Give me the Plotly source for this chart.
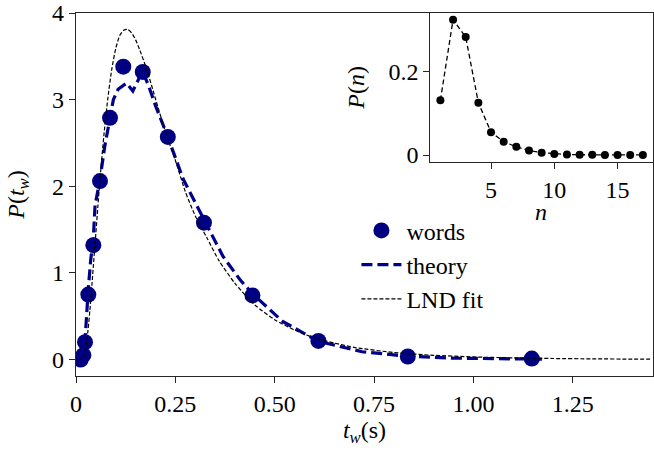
import plotly.graph_objects as go

# ---- main panel data ----
x_words = [0.0118, 0.0185, 0.0227, 0.031, 0.0436, 0.0604, 0.0856, 0.119, 0.168, 0.231, 0.322, 0.444, 0.61, 0.835, 1.147]
y_words = [0.0, 0.05, 0.20, 0.75, 1.32, 2.06, 2.79, 3.38, 3.32, 2.57, 1.58, 0.74, 0.215, 0.035, 0.011]

x_theory = [0.0118, 0.0164, 0.0227, 0.027, 0.031, 0.037, 0.0436, 0.048, 0.0604, 0.072, 0.0856, 0.094,
            0.106, 0.127, 0.143, 0.157, 0.166, 0.182, 0.20, 0.231, 0.27, 0.322, 0.37, 0.413, 0.444,
            0.52, 0.61, 0.72, 0.835, 0.95, 1.05, 1.18]
y_theory = [0.0, 0.05, 0.22, 0.55, 0.82, 1.15, 1.40, 1.78, 2.08, 2.45, 2.80, 3.00,
            3.12, 3.19, 3.10, 3.23, 3.34, 3.17, 2.93, 2.57, 2.08, 1.62, 1.19, 0.92, 0.76,
            0.44, 0.21, 0.09, 0.038, 0.016, 0.009, 0.004]

x_lnd = [0.005, 0.01, 0.015, 0.02, 0.025, 0.03, 0.035, 0.04, 0.045, 0.05, 0.055, 0.06, 0.07, 0.08,
         0.09, 0.10, 0.11, 0.12, 0.13, 0.14, 0.15, 0.16, 0.18, 0.20, 0.225, 0.25, 0.275, 0.30,
         0.33, 0.36, 0.40, 0.45, 0.50, 0.55, 0.60, 0.65, 0.70, 0.80, 0.90, 1.00, 1.10, 1.20,
         1.30, 1.40, 1.45]
y_lnd = [0.0, 0.0, 0.01, 0.05, 0.14, 0.33, 0.57, 0.86, 1.16, 1.46, 1.77, 2.06, 2.58, 3.01,
         3.35, 3.59, 3.74, 3.80, 3.81, 3.77, 3.69, 3.58, 3.32, 3.01, 2.63, 2.30, 1.94, 1.66,
         1.40, 1.14, 0.88, 0.63, 0.46, 0.34, 0.25, 0.19, 0.14, 0.081, 0.049, 0.030, 0.019, 0.012,
         0.008, 0.005, 0.004]

x_tickvals = [0, 0.25, 0.5, 0.75, 1.0, 1.25]
x_ticktext = ["0", "0.25", "0.50", "0.75", "1.00", "1.25"]
y_tickvals = [0, 1, 2, 3, 4]

# ---- inset data ----
n_vals = list(range(1, 18))
p_n = [0.132, 0.326, 0.284, 0.126, 0.055, 0.032, 0.020, 0.011, 0.0058, 0.0028, 0.0014,
       0.0008, 0.0005, 0.0004, 0.0003, 0.0002, 0.0002]
inset_xticks = [5, 10, 15]
inset_yticks = [0, 0.2]
inset_yticktext = ["0", "0.2"]

FONT = "Liberation Serif"
FS = 24
AXC = "#262626"

fig = go.Figure()
fig.add_trace(go.Scatter(x=x_words, y=y_words, mode="markers", name="words",
                         marker=dict(color="#000080", size=16), legendgroup="a",
                         cliponaxis=True))
fig.add_trace(go.Scatter(x=x_theory, y=y_theory, mode="lines", name="theory",
                         line=dict(color="#00008b", width=3.2, dash="11px,5px"), legendgroup="b"))
fig.add_trace(go.Scatter(x=x_lnd, y=y_lnd, mode="lines", name="LND fit",
                         line=dict(color="black", width=1.2, dash="4px,2px", shape="spline",
                                   smoothing=0.6), legendgroup="c"))
fig.add_trace(go.Scatter(x=n_vals, y=p_n, mode="lines+markers", showlegend=False,
                         xaxis="x2", yaxis="y2",
                         line=dict(color="black", width=1.3, dash="5px,3px"),
                         marker=dict(color="black", size=8)))

axis_common = dict(showgrid=False, zeroline=False, showline=True, linecolor=AXC, linewidth=1.2,
                   mirror=True, ticks="outside", ticklen=6, tickwidth=1.2, tickcolor=AXC,
                   automargin=False,
                   tickfont=dict(family=FONT, size=FS, color="black"))

fig.update_layout(
    width=654, height=457,
    margin=dict(l=76, r=1, t=13, b=81, pad=0),
    paper_bgcolor="white", plot_bgcolor="white",
    font=dict(family=FONT, size=FS, color="black"),
    xaxis=dict(domain=[0, 1], range=[0, 1.452], tickvals=x_tickvals, ticktext=x_ticktext,
               title=dict(text="<i>t</i><sub><i>w</i></sub>(s)", standoff=0,
                          font=dict(family=FONT, size=FS)),
               **axis_common),
    yaxis=dict(domain=[0, 1], range=[-0.19, 4.0], tickvals=y_tickvals,
               title=dict(text="<i>P</i>(<i>t</i><sub><i>w</i></sub>)", standoff=20,
                          font=dict(family=FONT, size=FS)),
               **axis_common),
    xaxis2=dict(domain=[0.614, 1.0], anchor="y2", range=[0.2, 17.8], tickvals=inset_xticks,
                **axis_common),
    yaxis2=dict(domain=[0.590, 1.0], anchor="x2", range=[-0.0163, 0.342], tickvals=inset_yticks,
                ticktext=inset_yticktext,
                title=dict(text="<i>P</i>(<i>n</i>)", standoff=16, font=dict(family=FONT, size=FS)),
                **axis_common),
    annotations=[dict(text="<i>n</i>", xref="paper", yref="paper", x=0.806, y=0.452,
                      xanchor="center", yanchor="middle", showarrow=False,
                      font=dict(family=FONT, size=FS))],
    legend=dict(x=0.486, y=0.462, xanchor="left", yanchor="top", bgcolor="rgba(255,255,255,0)",
                font=dict(family=FONT, size=FS), traceorder="grouped", tracegroupgap=0,
                itemwidth=40),
    showlegend=True,
)

fig.write_html("out.html", config={"displayModeBar": False},
               post_script="document.body.style.margin='0px';document.body.style.overflow='hidden';")
